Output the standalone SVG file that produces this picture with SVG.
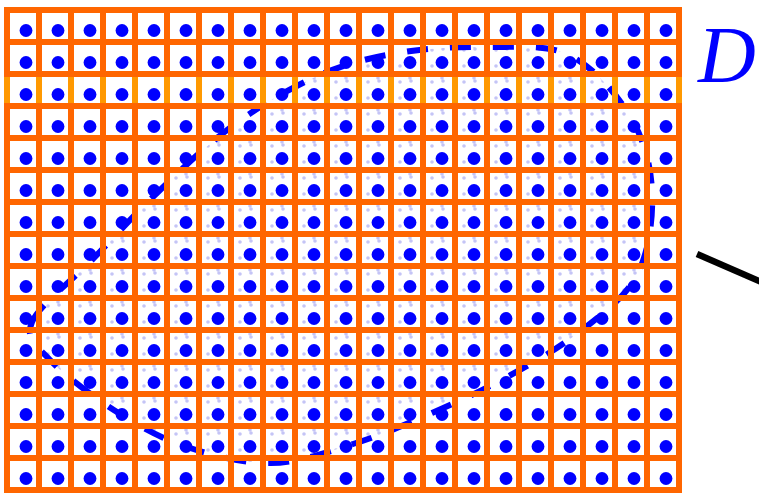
<svg xmlns="http://www.w3.org/2000/svg" xmlns:xlink="http://www.w3.org/1999/xlink" width="759" height="494" viewBox="0 0 759 494">
<style>
.grid{fill:none;stroke:#ff6600;stroke-width:6}
.gridl{fill:none;stroke:#ff9900;stroke-width:6}
.dot{fill:#0000ff}
.faint{fill:#c4c4f6}
.curve{fill:none;stroke:#0000ff;stroke-width:6;stroke-dasharray:21 22}
.lbl{font-family:"Liberation Serif","Times New Roman",serif;font-style:italic;font-size:80px;fill:#0000ff}
</style>
<defs>
<path id="region" d="M32,322 C39,305.3 71,281.7 92,260 C113,238.3 134.2,214.7 158,192 C181.8,169.3 207.7,143.7 235,124 C262.3,104.3 293.8,86 322,74 C350.2,62 376.5,56.5 404,52 C431.5,47.5 459.5,46.5 487,47 C514.5,47.5 545.2,43.5 569,55 C592.8,66.5 616.2,93.3 630,116 C643.8,138.7 650.8,164.5 652,191 C653.2,217.5 649.3,251.3 637,275 C624.7,298.7 599.7,316 578,333 C556.3,350 531.3,363.7 507,377 C482.7,390.3 457.7,401.8 432,413 C406.3,424.2 379.8,435.7 353,444 C326.2,452.3 298.7,462.5 271,463 C243.3,463.5 212.7,455.5 187,447 C161.3,438.5 139.8,426.5 117,412 C94.2,397.5 64.2,375 50,360 C35.8,345 25,338.7 32,322 Z"/>
<clipPath id="clip"><use href="#region"/></clipPath>
<pattern id="fp" patternUnits="userSpaceOnUse" x="0" y="0" width="32" height="32">
<circle class="faint" cx="16" cy="18" r="1.8"/>
<circle class="faint" cx="27" cy="17" r="1.8"/>
<circle class="faint" cx="16" cy="2" r="1.8"/>
<circle class="faint" cx="26" cy="14" r="1.8"/>
</pattern>
<g id="row">
<circle class="dot" cx="26" cy="30.5" r="6.4"/><circle class="dot" cx="58" cy="30.5" r="6.4"/><circle class="dot" cx="90" cy="30.5" r="6.4"/><circle class="dot" cx="122" cy="30.5" r="6.4"/><circle class="dot" cx="154" cy="30.5" r="6.4"/><circle class="dot" cx="186" cy="30.5" r="6.4"/><circle class="dot" cx="218" cy="30.5" r="6.4"/><circle class="dot" cx="250" cy="30.5" r="6.4"/><circle class="dot" cx="282" cy="30.5" r="6.4"/><circle class="dot" cx="314" cy="30.5" r="6.4"/><circle class="dot" cx="346" cy="30.5" r="6.4"/><circle class="dot" cx="378" cy="30.5" r="6.4"/><circle class="dot" cx="410" cy="30.5" r="6.4"/><circle class="dot" cx="442" cy="30.5" r="6.4"/><circle class="dot" cx="474" cy="30.5" r="6.4"/><circle class="dot" cx="506" cy="30.5" r="6.4"/><circle class="dot" cx="538" cy="30.5" r="6.4"/><circle class="dot" cx="570" cy="30.5" r="6.4"/><circle class="dot" cx="602" cy="30.5" r="6.4"/><circle class="dot" cx="634" cy="30.5" r="6.4"/><circle class="dot" cx="666" cy="30.5" r="6.4"/>
</g>
</defs>
<rect width="759" height="494" fill="#ffffff"/>
<g id="faint-samples" clip-path="url(#clip)">
<rect x="0" y="0" width="700" height="494" fill="url(#fp)"/>
</g>
<g id="domain-boundary">
<use href="#region" class="curve"/>
</g>
<g id="dots">
<use href="#row" y="0"/><use href="#row" y="32"/><use href="#row" y="64"/><use href="#row" y="96"/><use href="#row" y="128"/><use href="#row" y="160"/><use href="#row" y="192"/><use href="#row" y="224"/><use href="#row" y="256"/><use href="#row" y="288"/><use href="#row" y="320"/><use href="#row" y="352"/><use href="#row" y="384"/><use href="#row" y="416"/><use href="#row" y="448"/>
</g>
<g id="grid">
<path class="grid" d="M7,7V493 M39,7V493 M71,7V493 M103,7V493 M135,7V493 M167,7V493 M199,7V493 M231,7V493 M263,7V493 M295,7V493 M327,7V493 M359,7V493 M391,7V493 M423,7V493 M455,7V493 M487,7V493 M519,7V493 M551,7V493 M583,7V493 M615,7V493 M647,7V493 M679,7V493"/>
<path class="grid" d="M4,10H682 M4,42H682 M4,74H682 M4,106H682 M4,138H682 M4,170H682 M4,202H682 M4,234H682 M4,266H682 M4,298H682 M4,330H682 M4,362H682 M4,394H682 M4,426H682 M4,458H682 M4,490H682"/>
<path class="gridl" d="M7,77V103 M39,77V103 M71,77V103 M103,77V103 M135,77V103 M167,77V103 M199,77V103 M231,77V103 M263,77V103 M295,77V103 M327,77V103 M359,77V103 M391,77V103 M423,77V103 M455,77V103 M487,77V103 M519,77V103 M551,77V103 M583,77V103 M615,77V103 M647,77V103 M679,77V103"/>
</g>
<g id="label-D">
<text class="lbl" x="698" y="82">D</text>
</g>
<g id="connectors">
<line x1="697" y1="254" x2="775" y2="288" stroke="#000000" stroke-width="6.5"/>
</g>
</svg>
